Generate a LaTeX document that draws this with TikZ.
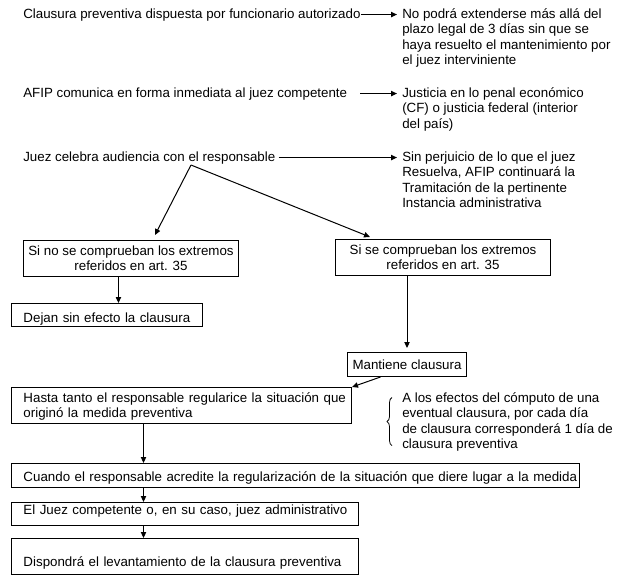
\documentclass[tikz,border=0pt]{standalone}
\usepackage{fontspec}
\setmainfont{Liberation Sans}
\usepackage{tikz}
\usetikzlibrary{arrows.meta,positioning,calc,decorations.pathreplacing}

\begin{document}
\begin{tikzpicture}[x=0.75pt,y=-0.75pt]
    \tikzset{
      ctext/.style={font=\fontsize{10}{11.5}\selectfont, inner sep=0pt},
      cpara/.style={ctext, align=left, anchor=north west},
      cbox/.style={ctext, draw, line width=0.75pt, align=center, anchor=north west},
      lbox/.style={ctext, draw, line width=0.75pt, inner xsep=9pt, align=left, anchor=north west},
      carrow/.style={line width=0.75pt, -{Triangle[length=4.5pt,width=4pt]}},
      cbrace/.style={line width=0.6pt, decorate, decoration={brace, amplitude=3.75pt}}
    }
    \useasboundingbox (0,0) rectangle (618,583);

    % Clausura preventiva
    \node[ctext, anchor=base west] (claus) at (23,18) {Clausura preventiva dispuesta por funcionario autorizado};
    \node[cpara] (plazo) at (402,8.5) {No podrá extenderse más allá del\\plazo legal de 3 días sin que se\\haya resuelto el mantenimiento por\\el juez interviniente};
    \draw[carrow, shorten >=3.75pt] (claus.east) -- (plazo.west |- claus.east);

    % AFIP comunica
    \node[ctext, anchor=base west] (afip) at (23,97) {AFIP comunica en forma inmediata al juez competente};
    \node[cpara] (justicia) at (402,87.5) {Justicia en lo penal económico\\(CF) o justicia federal (interior\\del país)};
    \draw[carrow, shorten >=3.75pt] ([xshift=9.75pt]afip.east) -- (justicia.west |- afip.east);

    % Audiencia
    \node[ctext, anchor=base west] (juez) at (23,161) {Juez celebra audiencia con el responsable};
    \node[cpara] (perjuicio) at (402,151.5) {Sin perjuicio de lo que el juez\\Resuelva, AFIP continuará la\\Tramitación de la pertinente\\Instancia administrativa};
    \draw[carrow, shorten >=3.75pt] ([xshift=2.25pt]juez.east) -- (perjuicio.west |- juez.east);
    \coordinate (split) at (191,165);

    % Art. 35
    \node[cbox, minimum width=161.25pt, minimum height=27pt] (nosi) at (23,240) {Si no se comprueban los extremos\\referidos en art. 35};
    \node[cbox, minimum width=161.25pt, minimum height=27pt] (sisi) at (335,239) {Si se comprueban los extremos\\referidos en art. 35};
    \draw[carrow] (split) -- ($(nosi.north west)+(132,-5)$);
    \draw[carrow] (split) -- ($(sisi.north west)+(35,-2)$);

    \node[lbox, text width=125.25pt, text height=14.25pt, text depth=3pt] (dejan) at (11,303) {Dejan sin efecto la clausura};
    \draw[carrow] ([xshift=-9.4pt]nosi.south) -- ([xshift=-9.4pt]nosi.south |- dejan.north);

    \node[cbox, minimum width=89.25pt, minimum height=18pt] (mant) at (347,352) {Mantiene clausura};
    \draw[carrow, shorten >=3pt] (sisi.south -| mant.north) -- (mant.north);

    % Regularizacion
    \node[lbox, text width=237pt, text height=11.25pt, text depth=15.75pt] (hasta) at (11,387) {\mbox{Hasta tanto el responsable regularice la situación que}\\originó la medida preventiva};
    \draw[carrow] ([xshift=-19.9pt]mant.south) -- (hasta.north east);

    \node[cpara] (efectos) at (402,392.5) {A los efectos del cómputo de una\\eventual clausura, por cada día\\de clausura corresponderá 1 día de\\clausura preventiva};
    \draw[cbrace] ($(efectos.south west)+(-10,-6)$) -- ($(efectos.north west)+(-10,5)$);

    % Levantamiento
    \node[lbox, text width=408pt, text height=13.5pt, text depth=4.5pt] (cuando) at (11,463) {\mbox{Cuando el responsable acredite la regularización de la situación que diere lugar a la medida}};
    \node[lbox, text width=242.25pt, text height=9pt, text depth=8.25pt] (juezadm) at (11,502) {\mbox{El Juez competente o, en su caso, juez administrativo}};
    \node[lbox, text width=242.25pt, text height=21pt, text depth=6pt] (dispone) at (11,538) {\mbox{Dispondrá el levantamiento de la clausura preventiva}};
    \coordinate (spine) at ([xshift=-28.5pt]hasta.south);
    \draw[carrow] (spine) -- (spine |- cuando.north);
    \draw[carrow] (spine |- cuando.south) -- (spine |- juezadm.north);
    \draw[carrow] (spine |- juezadm.south) -- (spine |- dispone.north);
\end{tikzpicture}
\end{document}
